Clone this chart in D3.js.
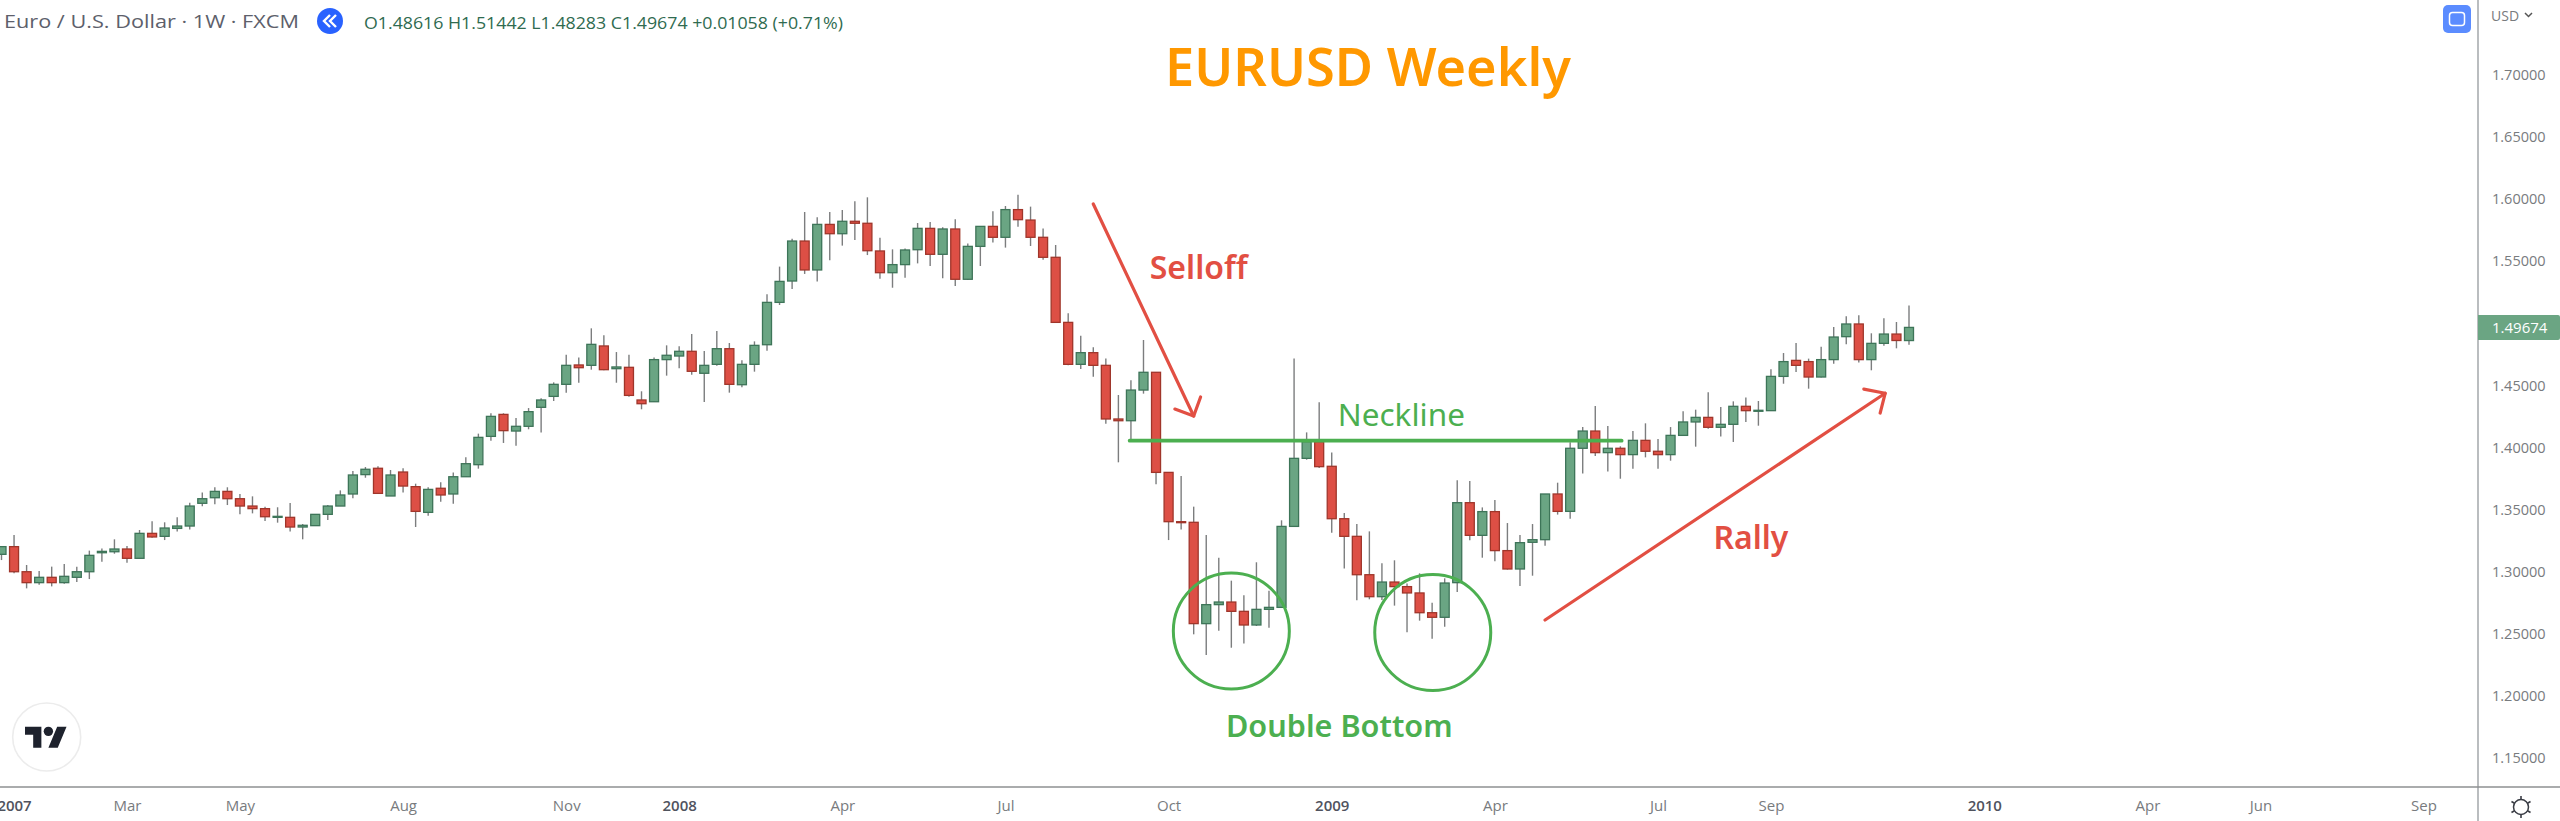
<!DOCTYPE html>
<html><head><meta charset="utf-8">
<script src="https://cdn.jsdelivr.net/npm/d3@7"></script>
<style>html,body{margin:0;padding:0;background:#fff;overflow:hidden}svg{display:block}</style>
</head><body><svg id="c" width="2560" height="821"><defs><filter id="soft" x="-2%" y="-2%" width="104%" height="104%"><feGaussianBlur stdDeviation="0.4"/></filter></defs></svg>
<script>
const opens=[1.3140,1.3202,1.3000,1.2912,1.2955,1.2912,1.2955,1.3000,1.3153,1.3161,
1.3183,1.3108,1.3309,1.3285,1.3349,1.3368,1.3551,1.3596,1.3647,1.3588,
1.3529,1.3508,1.3438,1.3438,1.3360,1.3371,1.3462,1.3529,1.3626,1.3782,
1.3833,1.3610,1.3803,1.3685,1.3478,1.3672,1.3626,1.3765,1.3862,1.4090,
1.4267,1.4133,1.4171,1.4324,1.4412,1.4509,1.4665,1.4662,1.4818,1.4635,
1.4646,1.4383,1.4369,1.4708,1.4737,1.4775,1.4598,1.4670,1.4796,1.4506,
1.4670,1.4828,1.5169,1.5341,1.5663,1.5430,1.5797,1.5722,1.5822,1.5806,
1.5583,1.5408,1.5473,1.5593,1.5765,1.5556,1.5760,1.5355,1.5620,1.5781,
1.5693,1.5916,1.5832,1.5693,1.5532,1.5008,1.4670,1.4764,1.4662,1.4230,
1.4216,1.4463,1.4606,1.3800,1.3403,1.3398,1.2582,1.2735,1.2756,1.2681,
1.2571,1.2697,1.2713,1.3365,1.3913,1.4047,1.3849,1.3427,1.3285,1.2976,
1.2799,1.2917,1.2880,1.2829,1.2670,1.2633,1.2912,1.3556,1.3293,1.3484,
1.3170,1.3022,1.3237,1.3258,1.3626,1.3486,1.3994,1.4133,1.3959,1.3994,
1.3943,1.4058,1.3970,1.3943,1.4098,1.4206,1.4243,1.4163,1.4187,1.4332,
1.4292,1.4297,1.4573,1.4702,1.4692,1.4568,1.4708,1.4893,1.4995,1.4708,
1.4839,1.4914,1.48616];
const highs=[1.3202,1.3296,1.3054,1.3006,1.3041,1.3062,1.3041,1.3170,1.3188,1.3261,
1.3207,1.3336,1.3406,1.3398,1.3438,1.3556,1.3637,1.3680,1.3680,1.3626,
1.3607,1.3524,1.3519,1.3553,1.3384,1.3462,1.3537,1.3655,1.3811,1.3843,
1.3849,1.3819,1.3833,1.3709,1.3680,1.3720,1.3800,1.3921,1.4112,1.4276,
1.4276,1.4238,1.4318,1.4396,1.4525,1.4748,1.4726,1.4960,1.4904,1.4769,
1.4748,1.4453,1.4726,1.4823,1.4815,1.4914,1.4777,1.4938,1.4842,1.4702,
1.4855,1.5234,1.5457,1.5682,1.5897,1.5854,1.5897,1.5913,1.5983,1.6015,
1.5690,1.5596,1.5602,1.5808,1.5816,1.5773,1.5838,1.5644,1.5781,1.5902,
1.5945,1.6036,1.5940,1.5763,1.5631,1.5081,1.4901,1.4807,1.4718,1.4423,
1.4541,1.4866,1.4606,1.3800,1.3771,1.3524,1.3296,1.3113,1.2928,1.2810,
1.3076,1.2847,1.3414,1.4718,1.4122,1.4364,1.3961,1.3473,1.3384,1.3325,
1.3068,1.3092,1.2906,1.2987,1.2751,1.2947,1.3736,1.3731,1.3518,1.3578,
1.3392,1.3296,1.3384,1.3626,1.3717,1.4042,1.4165,1.4335,1.4173,1.4010,
1.4133,1.4195,1.4069,1.4165,1.4292,1.4305,1.4445,1.4327,1.4372,1.4402,
1.4375,1.4630,1.4761,1.4842,1.4716,1.4812,1.4971,1.5057,1.5065,1.4920,
1.5041,1.5011,1.51442];
const lows=[1.3094,1.2987,1.2866,1.2896,1.2882,1.2904,1.2917,1.2941,1.3081,1.3145,
1.3073,1.3108,1.3274,1.3255,1.3323,1.3341,1.3527,1.3543,1.3537,1.3462,
1.3470,1.3408,1.3395,1.3323,1.3261,1.3371,1.3416,1.3529,1.3591,1.3757,
1.3631,1.3610,1.3637,1.3360,1.3451,1.3564,1.3548,1.3765,1.3830,1.4055,
1.4037,1.4015,1.4147,1.4122,1.4375,1.4442,1.4522,1.4627,1.4622,1.4522,
1.4410,1.4308,1.4369,1.4579,1.4638,1.4587,1.4367,1.4659,1.4442,1.4485,
1.4611,1.4780,1.5148,1.5277,1.5398,1.5338,1.5508,1.5626,1.5671,1.5550,
1.5360,1.5287,1.5368,1.5483,1.5462,1.5363,1.5301,1.5349,1.5462,1.5652,
1.5610,1.5779,1.5623,1.5513,1.5006,1.4662,1.4632,1.4571,1.4192,1.3881,
1.4055,1.4434,1.3704,1.3255,1.3341,1.2496,1.2329,1.2525,1.2388,1.2423,
1.2563,1.2549,1.2711,1.3365,1.3902,1.3835,1.3314,1.3025,1.2770,1.2778,
1.2772,1.2727,1.2512,1.2606,1.2461,1.2557,1.2837,1.3253,1.3113,1.3084,
1.3017,1.2885,1.2968,1.3210,1.3460,1.3427,1.3792,1.3932,1.3808,1.3749,
1.3830,1.3921,1.3830,1.3894,1.4095,1.4007,1.4152,1.4088,1.4045,1.4206,
1.4176,1.4294,1.4514,1.4608,1.4474,1.4565,1.4675,1.4831,1.4684,1.4622,
1.4820,1.4799,1.48283];
const closes=[1.3202,1.3000,1.2912,1.2955,1.2912,1.2963,1.3000,1.3132,1.3164,1.3183,
1.3108,1.3309,1.3280,1.3352,1.3368,1.3529,1.3588,1.3647,1.3588,1.3529,
1.3508,1.3443,1.3446,1.3360,1.3374,1.3462,1.3529,1.3618,1.3779,1.3825,
1.3631,1.3779,1.3690,1.3486,1.3663,1.3618,1.3765,1.3870,1.4082,1.4251,
1.4136,1.4171,1.4289,1.4383,1.4509,1.4662,1.4643,1.4831,1.4627,1.4649,
1.4420,1.4353,1.4708,1.4743,1.4775,1.4614,1.4662,1.4796,1.4509,1.4670,
1.4823,1.5169,1.5338,1.5663,1.5430,1.5797,1.5722,1.5822,1.5806,1.5585,
1.5408,1.5473,1.5591,1.5765,1.5556,1.5760,1.5355,1.5620,1.5781,1.5693,
1.5916,1.5835,1.5693,1.5532,1.5008,1.4670,1.4764,1.4662,1.4230,1.4216,
1.4463,1.4606,1.3800,1.3403,1.3398,1.2582,1.2735,1.2756,1.2681,1.2571,
1.2697,1.2713,1.3365,1.3913,1.4047,1.3846,1.3427,1.3285,1.2976,1.2799,
1.2917,1.2880,1.2829,1.2670,1.2633,1.2909,1.3556,1.3293,1.3484,1.3170,
1.3022,1.3234,1.3258,1.3626,1.3486,1.3994,1.4133,1.3959,1.3994,1.3943,
1.4058,1.3970,1.3943,1.4098,1.4206,1.4243,1.4163,1.4187,1.4332,1.4297,
1.4300,1.4573,1.4692,1.4662,1.4568,1.4708,1.4890,1.4995,1.4708,1.4839,
1.4914,1.4862,1.49674];

const priceTicks=[1.15,1.20,1.25,1.30,1.35,1.40,1.45,1.50,1.55,1.60,1.65,1.70];
const timeTickWeeks=[1,10,19,32,45,54,67,80,93,106,119,132,141,158,171,180,193];
const timeTickLabels=["2007","Mar","May","Aug","Nov","2008","Apr","Jul","Oct","2009","Apr","Jul","Sep","2010","Apr","Jun","Sep"];
const headerLabel="Euro / U.S. Dollar · 1W · FXCM";
const ohlcLabel="O1.48616 H1.51442 L1.48283 C1.49674 +0.01058 (+0.71%)";
const titleText="EURUSD Weekly";
const neckline=[[89.9,1.4055],[129.1,1.4055]];
const selloffArrow=[[87,1.5961],[95,1.4254]];
const selloffHead=[[93.5,1.4310],[95,1.4254],[95.55,1.4407]];
const rallyArrow=[[123,1.2611],[150.1,1.4437]];
const rallyHead=[[148.4,1.4471],[150.1,1.4437],[149.7,1.4278]];
const bottomCircles=[[98,1.2523],[114.05,1.2511]];
const annotationLabels=[
 {text:"Selloff",at:[95.4,1.5460],cls:"red"},
 {text:"Neckline",at:[111.55,1.4277],cls:"green"},
 {text:"Rally",at:[139.4,1.3281],cls:"red"},
 {text:"Double Bottom",at:[106.6,1.1766],cls:"greenb"}];

const W=2560,H=821,axisX=2478,axisY=787;
const x=d3.scaleLinear().domain([0,152]).range([1.5,1909]);
const y=d3.scaleLinear().domain([1.15,1.70]).range([758,75]);
const FONT='"Open Sans",sans-serif';
const svg=d3.select("#c");
const GREEN="#6ba583",RED="#dd5044",GB="#3e7459",RB="#a0362c",WICK="#7b7d7e";
const candles=closes.map((c,i)=>({i,o:opens[i],h:highs[i],l:lows[i],c}));
const cw=9;

const chart=svg.append("g").attr("filter","url(#soft)");
chart.selectAll("line.w").data(candles).join("line").attr("class","w")
 .attr("x1",d=>x(d.i)).attr("x2",d=>x(d.i)).attr("y1",d=>y(d.h)).attr("y2",d=>y(d.l))
 .attr("stroke",WICK).attr("stroke-width",1.4);
chart.selectAll("rect.b").data(candles).join("rect").attr("class","b")
 .attr("x",d=>x(d.i)-cw/2).attr("width",cw)
 .attr("y",d=>Math.min(y(d.o),y(d.c)))
 .attr("height",d=>Math.max(1,Math.abs(y(d.o)-y(d.c))))
 .attr("fill",d=>d.c>=d.o?GREEN:RED)
 .attr("stroke",d=>d.c>=d.o?GB:RB).attr("stroke-width",1.3);

// annotations
const ln=d3.line().x(d=>x(d[0])).y(d=>y(d[1]));
const ann=svg.append("g").attr("fill","none").attr("stroke-linecap","round").attr("stroke-linejoin","round");
ann.append("path").attr("d",ln(neckline)).attr("stroke","#4caf50").attr("stroke-width",3.8);
[selloffArrow,selloffHead,rallyArrow,rallyHead].forEach(p=>ann.append("path").attr("d",ln(p)).attr("stroke","#e24f43").attr("stroke-width",3.2));
ann.selectAll("circle").data(bottomCircles).join("circle")
 .attr("cx",d=>x(d[0])).attr("cy",d=>y(d[1])).attr("r",58).attr("stroke","#4caf50").attr("stroke-width",3);

const fonts={red:["#e24f43",32,600],green:["#4caf50",31.5,400],greenb:["#4caf50",30.6,600]};
svg.append("g").selectAll("text").data(annotationLabels).join("text")
 .text(d=>d.text).attr("x",d=>x(d.at[0])).attr("y",d=>y(d.at[1]))
 .attr("text-anchor","middle").attr("dominant-baseline","central")
 .attr("font-family",'"Noto Sans",sans-serif')
 .attr("fill",d=>fonts[d.cls][0]).attr("font-size",d=>fonts[d.cls][1]).attr("font-weight",d=>fonts[d.cls][2]);

svg.append("text").text(titleText).attr("x",1368).attr("y",65)
 .attr("text-anchor","middle").attr("dominant-baseline","central")
 .attr("font-family",'"Noto Sans",sans-serif').attr("font-weight",600).attr("font-size",52.3).attr("fill","#ff9800");

// axes
svg.append("rect").attr("x",axisX).attr("width",W-axisX).attr("y",0).attr("height",H).attr("fill","#fff");
svg.append("rect").attr("x",0).attr("width",W).attr("y",axisY).attr("height",H-axisY).attr("fill","#fff");
const yAxis=d3.axisRight(y).tickValues(priceTicks).tickFormat(d3.format(".5f")).tickSize(0).tickPadding(14);
const yg=svg.append("g").attr("transform",`translate(${axisX},0)`).call(yAxis);
yg.select(".domain").remove();
yg.selectAll("text").attr("font-family",FONT).attr("font-size",14.5).attr("fill","#787b7e");
const xAxis=d3.axisBottom(x).tickValues(timeTickWeeks).tickFormat((d,i)=>timeTickLabels[i]).tickSize(0).tickPadding(13);
const xg=svg.append("g").attr("transform",`translate(0,${axisY})`).call(xAxis);
xg.select(".domain").remove();
xg.selectAll("text").attr("font-family",FONT).attr("font-size",15)
 .attr("fill",(d,i)=>/^\d/.test(timeTickLabels[i])?"#50535e":"#787b7e")
 .attr("font-weight",(d,i)=>/^\d/.test(timeTickLabels[i])?600:400);
svg.append("line").attr("x1",axisX).attr("x2",axisX).attr("y1",0).attr("y2",H).attr("stroke","#a9adb0").attr("stroke-width",1.6);
svg.append("line").attr("x1",0).attr("x2",W).attr("y1",axisY).attr("y2",axisY).attr("stroke","#8e9092").attr("stroke-width",1.6);

// last price tag
const lastY=y(closes[closes.length-1]);
svg.append("path").attr("d",`M${axisX} ${lastY-12.5}H${W-2}q2 0 2 2V${lastY+10.5}q0 2-2 2H${axisX}Z`).attr("fill",GREEN);
svg.append("text").text(d3.format(".5f")(closes[closes.length-1])).attr("x",2492).attr("y",lastY)
 .attr("dominant-baseline","central").attr("font-family",FONT).attr("font-size",15).attr("fill","#fff").attr("font-weight",500);

// header
svg.append("text").text(headerLabel).attr("x",4).attr("y",21).attr("dominant-baseline","central")
 .attr("font-family",FONT).attr("font-size",18).attr("textLength",295).attr("lengthAdjust","spacingAndGlyphs").attr("fill","#5d606b");
svg.append("circle").attr("cx",330).attr("cy",21).attr("r",13).attr("fill","#2962ff");
svg.append("path").attr("d","M330 15l-6 6 6 6M336 15l-6 6 6 6").attr("fill","none").attr("stroke","#fff").attr("stroke-width",2.4);
svg.append("text").text(ohlcLabel).attr("x",364).attr("y",22).attr("dominant-baseline","central")
 .attr("font-family",FONT).attr("font-size",17).attr("textLength",479).attr("lengthAdjust","spacingAndGlyphs").attr("fill","#2f6b50");

// USD + scale button + gear
svg.append("rect").attr("x",2443).attr("y",5).attr("width",28).attr("height",28).attr("rx",5).attr("fill","#5b8cff");
svg.append("rect").attr("x",2449.5).attr("y",12.5).attr("width",15).attr("height",13).attr("rx",3).attr("fill","none").attr("stroke","#fff").attr("stroke-width",1.5);
svg.append("text").text("USD").attr("x",2491).attr("y",15).attr("dominant-baseline","central")
 .attr("font-family",FONT).attr("font-size",14).attr("fill","#787b7e");
svg.append("path").attr("d","M2525 13l3.5 3.5 3.5-3.5").attr("fill","none").attr("stroke","#555").attr("stroke-width",1.5);
const gear=svg.append("g").attr("transform","translate(2521,807)").attr("stroke","#3a3d45").attr("fill","none");
gear.append("circle").attr("r",7.5).attr("stroke-width",1.5);
d3.range(6).forEach(k=>{const a=k*Math.PI/3+Math.PI/2;gear.append("line")
 .attr("x1",7.5*Math.cos(a)).attr("y1",7.5*Math.sin(a)).attr("x2",11*Math.cos(a)).attr("y2",11*Math.sin(a)).attr("stroke-width",1.6);});

// TV logo
svg.append("circle").attr("cx",46.7).attr("cy",737).attr("r",34).attr("fill","#fff").attr("stroke","#ececec").attr("stroke-width",1.6);
const logo=svg.append("g").attr("transform","translate(25,722) scale(1.17)").attr("fill","#1e222d");
logo.append("path").attr("d","M14 22H7V11H0V4h14v18zM28 22h-8l7.5-18h8L28 22z");
logo.append("circle").attr("cx",20).attr("cy",8).attr("r",4);
</script></body></html>
